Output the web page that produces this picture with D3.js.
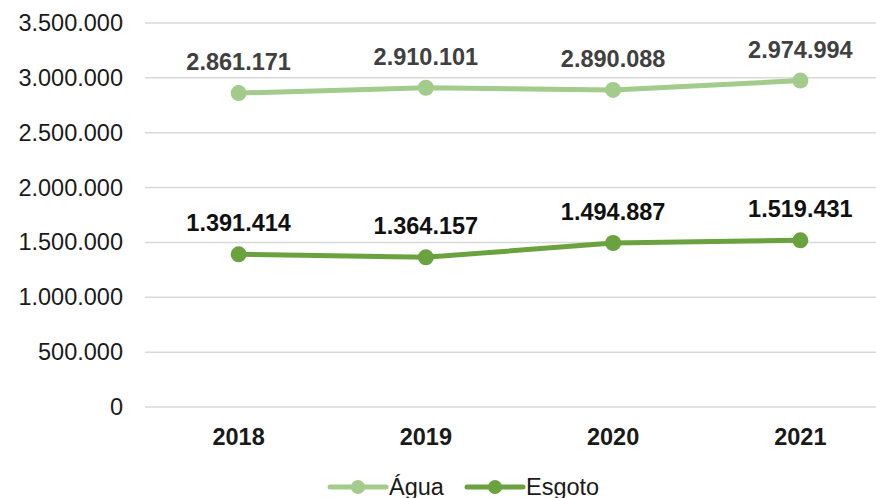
<!DOCTYPE html>
<html>
<head>
<meta charset="utf-8">
<script src="https://cdn.jsdelivr.net/npm/d3@7"></script>
<style>
  body { margin: 0; background: #fff; }
  svg text { font-family: "Liberation Sans", Arial, sans-serif; }
</style>
</head>
<body>
<div id="chart"></div>
<script>
var years = ["2018", "2019", "2020", "2021"];
var agua = [2861171, 2910101, 2890088, 2974994];
var esgoto = [1391414, 1364157, 1494887, 1519431];
var yTicks = [0, 500000, 1000000, 1500000, 2000000, 2500000, 3000000, 3500000];
var seriesNames = ["Água", "Esgoto"];

var width = 876, height = 498;
var margin = {top: 23, right: -18, bottom: 91, left: 145};
var fs = 23.5;
var fmt = function(v) { return d3.format(",")(v).replace(/,/g, "."); };

var svg = d3.select("#chart").append("svg")
    .attr("width", width)
    .attr("height", height);

var xScale = d3.scaleBand()
    .domain(years)
    .range([margin.left, width - margin.right]);

var yScale = d3.scaleLinear()
    .domain([0, 3500000])
    .range([height - margin.bottom, margin.top]);

// gridlines
svg.append("g").selectAll("line").data(yTicks)
  .enter().append("line")
    .attr("x1", margin.left)
    .attr("x2", width - margin.right)
    .attr("y1", function(d) { return yScale(d); })
    .attr("y2", function(d) { return yScale(d); })
    .attr("stroke", "#d9d9d9")
    .attr("stroke-width", 1.5);

// y axis labels
var yAxis = d3.axisLeft(yScale).tickValues(yTicks).tickFormat(fmt).tickSize(0).tickPadding(22);
var yg = svg.append("g").attr("transform", "translate(" + margin.left + ",0)").call(yAxis);
yg.select(".domain").remove();
yg.selectAll("text").attr("font-size", fs).attr("fill", "#1a1a1a")
    .style("font-family", "Liberation Sans, Arial, sans-serif");

// x axis labels
var xAxis = d3.axisBottom(xScale).tickSize(0).tickPadding(21);
var xg = svg.append("g").attr("transform", "translate(0," + yScale(0) + ")").call(xAxis);
xg.select(".domain").remove();
xg.selectAll("text").attr("font-size", fs).attr("font-weight", "bold").attr("fill", "#1a1a1a")
    .style("font-family", "Liberation Sans, Arial, sans-serif");

var series = [
  {name: seriesNames[0], values: agua, color: "#a3cb8c", label: "#404040"},
  {name: seriesNames[1], values: esgoto, color: "#6aa23f", label: "#111"}
];

var line = d3.line()
    .x(function(d, i) { return xScale(years[i]) + xScale.bandwidth() / 2; })
    .y(function(d) { return yScale(d); });

series.forEach(function(s) {
  var g = svg.append("g");
  g.append("path")
      .datum(s.values)
      .attr("d", line)
      .attr("fill", "none")
      .attr("stroke", s.color)
      .attr("stroke-width", 5)
      .attr("stroke-linecap", "round");
  g.selectAll("circle").data(s.values)
    .enter().append("circle")
      .attr("cx", function(d, i) { return xScale(years[i]) + xScale.bandwidth() / 2; })
      .attr("cy", function(d) { return yScale(d); })
      .attr("r", 8)
      .attr("fill", s.color);
  g.selectAll("text").data(s.values)
    .enter().append("text")
      .attr("x", function(d, i) { return xScale(years[i]) + xScale.bandwidth() / 2; })
      .attr("y", function(d) { return yScale(d) - 23; })
      .attr("text-anchor", "middle")
      .attr("font-size", fs)
      .attr("font-weight", "bold")
      .attr("fill", s.label)
      .text(fmt);
});

// legend
var legend = svg.append("g").attr("transform", "translate(0,487)");
var legendX = [330, 467];
series.forEach(function(s, i) {
  var x0 = legendX[i];
  legend.append("line")
      .attr("x1", x0).attr("x2", x0 + 56)
      .attr("y1", 0).attr("y2", 0)
      .attr("stroke", s.color).attr("stroke-width", 5)
      .attr("stroke-linecap", "round");
  legend.append("circle")
      .attr("cx", x0 + 28).attr("cy", 0).attr("r", 7)
      .attr("fill", s.color);
  legend.append("text")
      .attr("x", x0 + 59).attr("y", 8)
      .attr("font-size", fs)
      .attr("fill", "#1a1a1a")
      .text(s.name);
});
</script>
</body>
</html>
